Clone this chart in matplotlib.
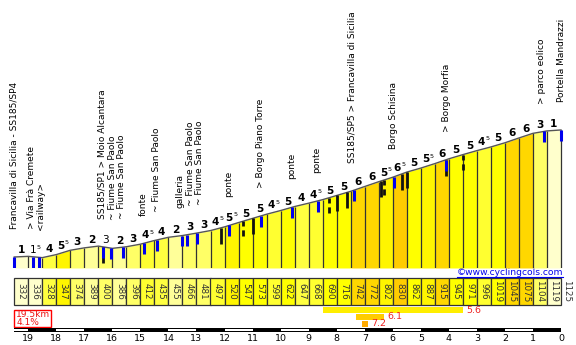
import numpy as np
import matplotlib
matplotlib.use("Agg")
import matplotlib.pyplot as plt
from matplotlib.patches import Rectangle

# ---------------- data ----------------
elevations = [332, 336, 328, 347, 374, 389, 400, 386, 396, 412, 435, 455, 466, 481,
              497, 520, 547, 573, 599, 622, 647, 668, 690, 716, 742, 772, 802, 830,
              862, 887, 915, 945, 971, 996, 1019, 1045, 1075, 1104, 1119, 1125]
grade_labels = [1, 1.5, 4, 5.5, 3, 2, 3, 2, 3, 4.5, 4, 2, 3, 3, 4.5, 5.5, 5, 5, 4.5, 5,
                4, 4.5, 5, 5, 6, 6, 5.5, 6.5, 5, 5.5, 6, 5, 5, 4.5, 5, 6, 6, 3, 1]
total_km = 19.5
seg_km = 0.5
avg_grade = 4.1
km_ticks = list(range(19, -1, -1))

landmark_km = [19.5, 18.87, 18.55, 16.37, 16.01, 15.66, 14.91, 14.44, 13.59, 13.23,
               12.91, 11.84, 10.73, 9.59, 8.70, 7.45, 5.99, 4.10, 0.68, 0.0]
landmark_text = ["Francavilla di Sicilia - SS185/SP4", "> Via Frà Cremete", "<railway>",
                 "SS185/SP1 > Moio Alcantara", "~ Fiume San Paolo", "~ Fiume San Paolo",
                 "fonte", "~ Fiume San Paolo", "galleria", "~ Fiume San Paolo",
                 "~ Fiume San Paolo", "ponte", "> Borgo Piano Torre", "ponte", "ponte",
                 "SS185/SP5 > Francavilla di Sicilia", "Borgo Schisina", "> Borgo Morfia",
                 "> parco eolico", "Portella Mandrazzi"]

tick_blue_km = [19.5, 18.83, 18.62, 16.33, 16.05, 15.62, 14.87, 14.41, 13.52, 13.34,
                12.98, 11.84, 10.70, 9.59, 8.67, 7.38, 5.96, 4.10, 0.61, 0.0]
tick_black_km = [16.33, 12.13, 10.98, 7.99, 7.63, 6.42, 5.67, 5.49, 4.10]
tick_dashed_km = [11.34, 8.27, 6.31, 3.50]

best_start = [8.5, 7.3, 7.1]
best_end = [3.5, 6.3, 6.9]
best_grade = [5.6, 6.1, 7.2]
best_colors = ["#FFEE00", "#FFCC00", "#FFAA00"]

# ---------------- geometry ----------------
W, H = 576, 345
PX_PER_KM = 28.04
KM0_PX = 561.0
PX_PER_M = 0.1602
Y332 = 257.0
BASE_PX = 268.0

xlim = (KM0_PX / PX_PER_KM, -(W - KM0_PX) / PX_PER_KM)
ybot = 332 - (BASE_PX - Y332) / PX_PER_M
ytop = 332 + Y332 / PX_PER_M

fig = plt.figure(figsize=(W / 100, H / 100), dpi=100, facecolor="white")
axb = fig.add_axes([0, 0, 1, 1])
axb.set_xlim(*xlim)
axb.set_ylim(H, 0)
axb.axis("off")
axb.set_zorder(0)

ax = fig.add_axes([0, (H - BASE_PX) / H, 1, BASE_PX / H])
ax.set_xlim(*xlim)
ax.set_ylim(ybot, ytop)
ax.axis("off")
ax.set_zorder(1)
ax.patch.set_alpha(0)

elev = np.array(elevations, dtype=float)
kms = total_km - seg_km * np.arange(len(elev))


def seg_color(g):
    table = {1: "#FFFFCC", 1.5: "#FFFFCC", 2: "#FFFF99", 3: "#FFFF66", 4: "#FFFF40",
             4.5: "#FFFF30", 5: "#FFFF00", 5.5: "#FFF500", 6: "#FFD700", 6.5: "#FFCC00"}
    return table.get(g, "#FFFF00")


def elev_at(km):
    return np.interp(km, kms[::-1], elev[::-1])


# profile fill
for i in range(len(elev) - 1):
    c = seg_color(grade_labels[i])
    ax.fill_between([kms[i], kms[i + 1]], [elev[i], elev[i + 1]], ybot,
                    color=c, lw=0, zorder=1)
ax.vlines(kms, ybot, elev, color="#333333", lw=0.9, zorder=2)
ax.plot(kms, elev, color="#555555", lw=1.0, zorder=3)

# ticks
for k in tick_black_km:
    e = elev_at(k)
    ax.vlines(k, e - 100, e, color="#111111", lw=2.0, zorder=4)
for k in tick_dashed_km:
    e = elev_at(k)
    ax.vlines(k, e - 95, e, color="#111111", lw=2.0, zorder=4,
              linestyles=(0, (2.2, 1.4)))
for k in tick_blue_km:
    e = elev_at(k)
    ax.vlines(k, e - 68, e, color="#0000EE", lw=2.2, zorder=5)

# gradient labels
for i, g in enumerate(grade_labels):
    xm = (kms[i] + kms[i + 1]) / 2
    em = (elev[i] + elev[i + 1]) / 2
    descent = elev[i + 1] < elev[i]
    whole = int(g)
    half = (g - whole) > 0.01
    dx = -1.6 if half else 0
    ax.annotate(str(whole), xy=(xm, em), xytext=(dx, 2.8), textcoords="offset points",
                ha="center", va="baseline", fontsize=7.6,
                fontweight="normal" if descent else "bold", color="black", zorder=6)
    if half:
        ax.annotate("5", xy=(xm, em), xytext=(dx + 2.8, 6.0), textcoords="offset points",
                    ha="left", va="baseline", fontsize=4.6, color="black", zorder=6)

# landmark labels
for k, t in zip(landmark_km, landmark_text):
    e = elev_at(k)
    ax.annotate(t, xy=(k, e), xytext=(0, 28 * 0.72), textcoords="offset points",
                rotation=90, ha="center", va="bottom", fontsize=6.5, color="black",
                zorder=6)

# elevation boxes
for i in range(len(elev) - 1):
    axb.add_patch(Rectangle((kms[i + 1], 278), seg_km, 27,
                            facecolor=seg_color(grade_labels[i]), edgecolor="#333333",
                            lw=0.9))
    axb.text((kms[i] + kms[i + 1]) / 2, 291.5, str(elevations[i]), rotation=270,
             ha="center", va="center", fontsize=6.3, color="#333333")
axb.text(kms[-1] - 6 / PX_PER_KM, 291.5, str(elevations[-1]), rotation=270,
         ha="center", va="center", fontsize=6.3, color="#333333")

# website
wt = axb.text(kms[-1] - 2 / PX_PER_KM, 272.5, "©www.cyclingcols.com", ha="right",
              va="center", fontsize=6.6, color="#0000EE")
fig.canvas.draw()
bb = wt.get_window_extent().transformed(axb.transData.inverted())
axb.plot([bb.x0, bb.x1], [277.3, 277.3], color="#0000EE", lw=0.8)

# summary box
axb.add_patch(Rectangle((total_km - 1.32, 310), 1.32, 17, facecolor="white",
                        edgecolor="#FF0000", lw=1.0))
axb.text(total_km - 0.07, 314.3, f"{total_km}km", ha="left", va="center",
         fontsize=6.5, color="#EE1111")
axb.text(total_km - 0.07, 322.5, f"{avg_grade}%", ha="left", va="center",
         fontsize=6.5, color="#EE1111")

# best gradient bars
bar_y = [307, 313.5, 320.5]
bar_h = [6.3, 6.0, 6.0]
for s, e_, g, c, y0, h in zip(best_start, best_end, best_grade, best_colors, bar_y, bar_h):
    axb.add_patch(Rectangle((e_, y0), s - e_, h, facecolor=c, lw=0))
    axb.text(e_ - 3.5 / PX_PER_KM, y0 + h / 2, f"{g}", ha="left", va="center",
             fontsize=6.8, color="#EE2222")

# km scale bar
axb.add_patch(Rectangle((0, 328.3), total_km, 4.0, facecolor="black", lw=0))
white_segs = [(19.0, 19.5)] + [(k - 1, k) for k in range(2, 19, 2)]
for a, b in white_segs:
    axb.add_patch(Rectangle((a, 329.4), b - a, 1.9, facecolor="white", lw=0))
for k in km_ticks:
    axb.text(k, 338.8, str(k), ha="center", va="center", fontsize=6.8, color="black")

fig.savefig("out.png", dpi=100, facecolor="white")
